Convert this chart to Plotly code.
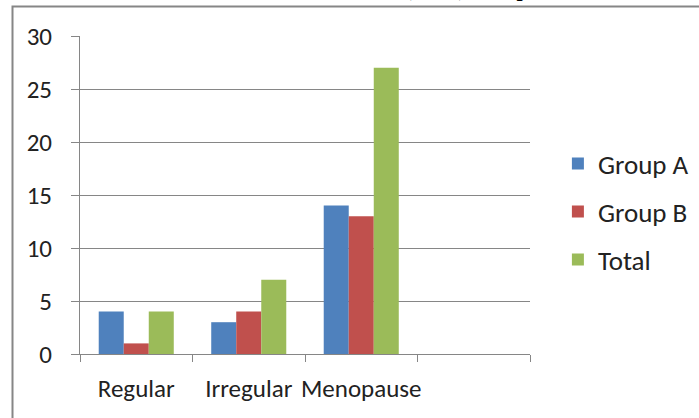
import plotly.graph_objects as go

categories = ["Regular", "Irregular", "Menopause", " "]
group_a = [4, 3, 14]
group_b = [1, 4, 13]
total = [4, 7, 27]
y_ticks = [0, 5, 10, 15, 20, 25, 30]

colors = {"Group A": "#4F81BD", "Group B": "#C0504D", "Total": "#9BBB59"}
font_family = "Carlito, Calibri, Lato, 'Open Sans', sans-serif"

fig = go.Figure()
for name, vals in [("Group A", group_a), ("Group B", group_b), ("Total", total)]:
    fig.add_trace(go.Bar(
        x=categories[:len(vals)], y=vals, name=name, legendgroup=name,
        marker=dict(color=colors[name], line=dict(width=0)),
    ))

W, H = 699, 418
L, R, T, B = 80, 169, 36, 64
pw, ph = W - L - R, H - T - B

fig.update_layout(
    width=W, height=H,
    margin=dict(l=L, r=R, t=T, b=B, autoexpand=False),
    paper_bgcolor="white", plot_bgcolor="white",
    barmode="group", bargap=0.333, bargroupgap=0,
    font=dict(family=font_family, size=25, color="#222222"),
    showlegend=True,
    legend=dict(x=1.062, xanchor="left", y=0.447, yanchor="middle",
                font=dict(size=27, color="#222222"),
                itemwidth=30, tracegroupgap=10, traceorder="grouped",
                bgcolor="rgba(0,0,0,0)"),
    xaxis=dict(
        type="category", categoryorder="array", categoryarray=categories,
        range=[-0.5, 3.5], showline=True, linecolor="#868686", linewidth=1,
        ticks="outside", tickson="boundaries", ticklen=7, tickcolor="#868686",
        showgrid=False, tickfont=dict(size=25, color="#222222"),
        ticklabelstandoff=12, tickangle=0, automargin=False,
    ),
    yaxis=dict(
        range=[0, 30], tickvals=y_ticks, showline=True, linecolor="#868686",
        linewidth=1, ticks="outside", ticklen=8, tickcolor="#868686",
        showgrid=True, gridcolor="#868686", gridwidth=1, zeroline=False,
        tickfont=dict(size=25, color="#222222"), ticklabelstandoff=14,
        automargin=False,
    ),
    shapes=[dict(
        type="rect", xref="paper", yref="paper",
        x0=(12.5 - L) / pw, x1=(720 - L) / pw,
        y0=1 - (420 - T) / ph, y1=1 + (T - 6.5) / ph,
        line=dict(color="#868686", width=2), fillcolor="rgba(0,0,0,0)",
        layer="below",
    )],
    annotations=[dict(
        text="<b>Menstrual Status of Women (n=60): Graph 3</b>",
        xref="paper", yref="paper", x=(560 - L) / pw, xanchor="right",
        y=1 + (T - 3) / ph, yanchor="bottom", showarrow=False,
        font=dict(family="'Liberation Serif', 'Times New Roman', serif",
                  size=22, color="black"),
    )],
)

fig.write_html("out.html", config={"displayModeBar": False},
               post_script="document.body.style.margin='0';")
